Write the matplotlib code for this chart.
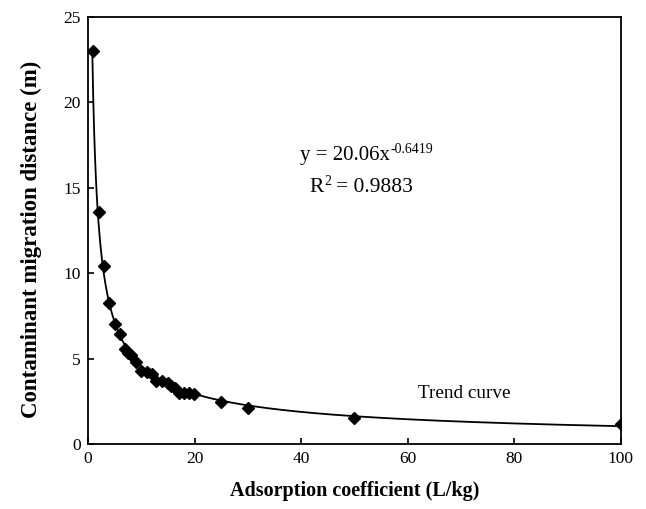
import numpy as np
import matplotlib.pyplot as plt

# adsorption coefficient (L/kg) and migration distance (m)
kd = [1, 2, 3, 4, 5, 6, 7, 7.5, 8, 9, 10, 11, 12, 12.8, 13.8, 15, 15.6, 16.3,
      17.1, 18, 18.9, 19.9, 25, 30, 50, 100]
dist = [23.0, 13.6, 10.4, 8.26, 7.03, 6.45, 5.55, 5.35, 5.22, 4.82, 4.3, 4.24,
        4.08, 3.7, 3.68, 3.58, 3.4, 3.25, 3.0, 2.96, 2.96, 2.9, 2.47, 2.13,
        1.5, 1.2]

# power trend fit
fit_a = 20.06
fit_b = -0.6419

plt.rcParams['font.family'] = ['Liberation Serif', 'DejaVu Serif']

fig = plt.figure(figsize=(6.46, 5.09), dpi=100)
ax = fig.add_axes([0.1362, 0.1277, 0.8248, 0.839])

# trend curve starts where it meets the first point
x0 = (dist[0] / fit_a) ** (1 / fit_b)
xc = np.linspace(x0, 100, 600)
ax.plot(xc, fit_a * xc ** fit_b, color='black', lw=1.3)
ax.plot(kd, dist, linestyle='none', marker='D', color='black', markersize=6.3)

ax.set_xlim(0, 100)
ax.set_ylim(0, 25)
ax.set_xticks([0, 20, 40, 60, 80, 100])
ax.set_yticks([0, 5, 10, 15, 20, 25])
ax.tick_params(direction='in', length=4, width=1.2, labelsize=12.5, pad=5)
for s in ax.spines.values():
    s.set_linewidth(1.3)

ax.set_xlabel('Adsorption coefficient (L/kg)', fontsize=14.5, fontweight='bold', labelpad=10)
ax.set_ylabel('Contaminant migration distance (m)', fontsize=16.5, fontweight='bold')
ax.yaxis.set_label_coords(-0.086, 0.48)

# equation text, superscripts as small separate texts
t1 = ax.text(56.6, 16.9, 'y = 20.06x', fontsize=15, ha='right', va='center')
ax.annotate('-0.6419', xy=(1, 1), xycoords=t1, xytext=(1, 2),
            textcoords='offset points', fontsize=10, ha='left', va='top')
t2 = ax.text(44.3, 15.0, 'R', fontsize=15.5, ha='right', va='center')
ax.annotate('2', xy=(1, 1), xycoords=t2, xytext=(0.5, 2),
            textcoords='offset points', fontsize=10, ha='left', va='top')
ax.text(46.6, 15.0, '= 0.9883', fontsize=15.5, ha='left', va='center')
ax.text(70.7, 2.95, 'Trend curve', fontsize=13.8, ha='center', va='center')

fig.savefig('out.png', dpi=100)
